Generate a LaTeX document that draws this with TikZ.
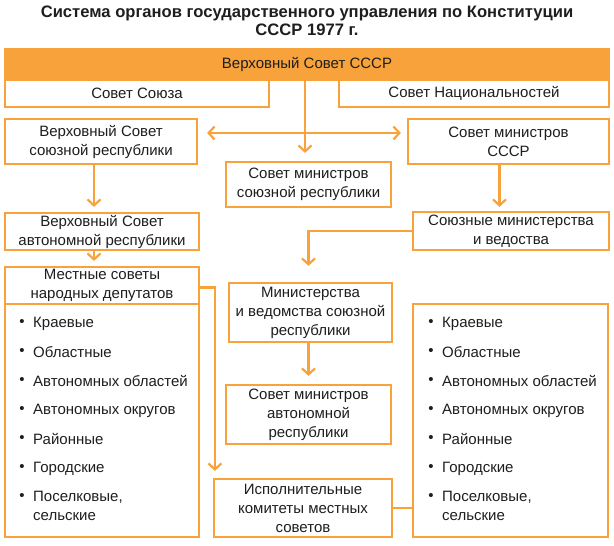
\documentclass[tikz,border=0pt]{standalone}
\usepackage{fontspec}
\setmainfont{Liberation Sans}
\usetikzlibrary{arrows.meta,calc}
\definecolor{orgorange}{RGB}{247,162,58}
\definecolor{orgtext}{RGB}{30,30,30}

\begin{document}
\begin{tikzpicture}[x=1pt,y=-1pt]

    \tikzset{
        orgbox/.style={
            draw=orgorange,
            line width=2.2pt,
            fill=white,
            align=center,
            inner sep=0pt,
            text=orgtext,
            font=\fontsize{15}{19}\selectfont
        },
        listbox/.style={
            draw=orgorange,
            line width=2.2pt
        },
        listitem/.style={
            anchor=north west,
            align=left,
            inner sep=0pt,
            text=orgtext,
            font=\fontsize{15}{19}\selectfont
        },
        listdot/.style={
            inner sep=0pt,
            text=orgtext,
            font=\fontsize{15}{15}\selectfont
        },
        link/.style={
            draw=orgorange,
            line width=2.2pt
        },
        arr/.style={
            link,
            -{Straight Barb[length=6pt,width=13pt]}
        },
        arrboth/.style={
            link,
            {Straight Barb[length=6pt,width=13pt]}-{Straight Barb[length=6pt,width=13pt]}
        }
    }

    \useasboundingbox (0,0) rectangle (614,546);

    \node[align=center, inner sep=0pt, text=orgtext,
        font=\fontsize{16.6}{18}\selectfont\bfseries] (title) at (307,21)
        {Система органов государственного управления по Конституции\\СССР 1977 г.};

    % supreme soviet
    \node[orgbox, fill=orgorange, minimum width=604pt, minimum height=31pt] (bar) at (307,64.5) {Верховный Совет СССР};
    \node[orgbox, minimum width=264pt, minimum height=27pt] (soyuz) at (137,93.5) {Совет Союза};
    \node[orgbox, minimum width=270pt, minimum height=27pt] (nats) at (474,93.5) {Совет Национальностей};

    \node[orgbox, minimum width=192pt, minimum height=45pt] (vsr) at (101,141.5) {Верховный Совет\\союзной республики};
    \node[orgbox, minimum width=201pt, minimum height=45pt] (smussr) at (508.5,141.5) {Совет министров\\СССР};
    \node[orgbox, minimum width=165pt, minimum height=45pt] (smsr) at (308.5,184.5) {Совет министров\\союзной республики};

    \node[orgbox, minimum width=194pt, minimum height=37pt] (vsar) at (102,231.5) {Верховный Совет\\автономной республики};
    \node[orgbox, minimum width=196pt, minimum height=38pt] (sminv) at (511,231) {Союзные министерства\\и ведоства};

    \node[orgbox, minimum width=194pt, minimum height=37pt] (mestn) at (102,285.5) {Местные советы\\народных депутатов};
    \node[orgbox, minimum width=163pt, minimum height=59pt] (minsr) at (310.5,312.5) {Министерства\\и ведомства союзной\\республики};
    \node[orgbox, minimum width=165pt, minimum height=59pt] (smar) at (308.5,414.5) {Совет министров\\автономной\\республики};
    \node[orgbox, minimum width=178pt, minimum height=58pt] (ispkom) at (303,508) {Исполнительные\\комитеты местных\\советов};

    % lists of local soviets
    \node[listbox, minimum width=194pt, minimum height=233pt] (leftlist) at (102,420.5) {};
    \node[listbox, minimum width=195pt, minimum height=233pt] (rightlist) at (510.5,420.5) {};

    \foreach \t [count=\i from 0] in {Краевые, Областные, Автономных областей, Автономных округов, Районные, Городские, {Поселковые,\\сельские}} {
        \node[listdot] (lb\i) at (22,323+29*\i) {\textbullet};
        \node[listitem] (la\i) at (33,317+29*\i) {\t};
        \node[listdot] (rb\i) at (431,323+29*\i) {\textbullet};
        \node[listitem] (ra\i) at (442,317+29*\i) {\t};
    }

    % connectors
    \coordinate (hub) at (305,133);
    \draw[arr] (bar.south -| hub) -- ($(smsr.north -| hub)+(0,-8)$);
    \draw[arrboth] ($(vsr.east |- hub)+(9,0)$) -- ($(smussr.west |- hub)+(-6,0)$);

    \draw[arr] ($(vsr.south)+(-7,0)$) -- ($(vsr.south |- vsar.north)+(-7,-5)$);
    \draw[arr] ($(smussr.south)+(-9,0)$) -- ($(smussr.south |- sminv.north)+(-9,-4)$);
    \draw[arr] (sminv.west) -| ($(minsr.north)+(-2,-16)$);

    \draw[arr] ($(vsar.south)+(-8,0)$) -- ($(vsar.south |- mestn.north)+(-8,-5)$);
    \draw[arr] ($(minsr.south)+(-2,0)$) -- ($(minsr.south |- smar.north)+(-2,-8)$);
    \draw[arr] ($(mestn.east)+(0,2)$) -| ($(ispkom.north west)+(2,-7)$);
    \draw[link] (ispkom.east) -- (ispkom.east -| rightlist.west);

\end{tikzpicture}
\end{document}
